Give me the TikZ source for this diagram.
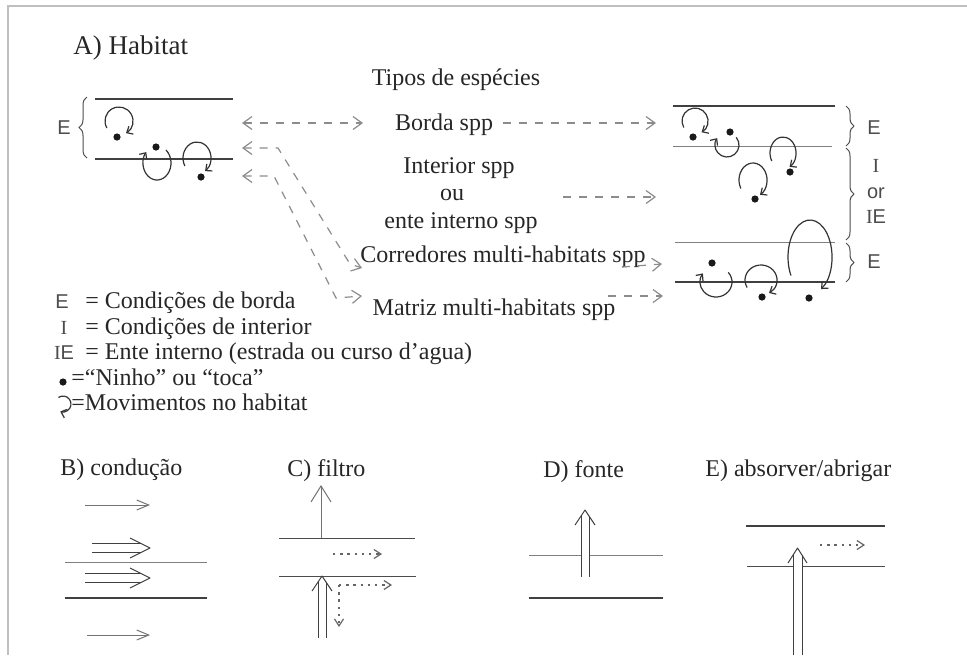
\documentclass[tikz,border=0pt]{standalone}
\usepackage{fontspec}
\setmainfont{Liberation Serif}
\newfontfamily\labelsans{Liberation Sans}
\usetikzlibrary{arrows.meta,decorations.pathreplacing}

\begin{document}
\begin{tikzpicture}[x=0.5pt, y=-0.5pt,
    >={Straight Barb[length=4.5pt,width=6.5pt]},
    txt/.style={anchor=base, inner sep=0pt, text=black!85, font=\fontsize{12}{14}\selectfont},
    paneltitle/.style={txt, anchor=base west},
    zone/.style={anchor=base, inner sep=0pt, text=black!70, font=\labelsans\fontsize{10}{12}\selectfont},
    keyzone/.style={anchor=base, inner sep=0pt, text=black!70, font=\labelsans\fontsize{10}{12}\selectfont},
    rim/.style={draw=black!75, line width=1pt},
    midline/.style={draw=black!50, line width=0.5pt},
    zonebrace/.style={draw=black!70, line width=0.5pt, decorate, decoration={brace, amplitude=4pt}},
    flow/.style={draw=black!45, line width=0.6pt, dash pattern=on 4pt off 4pt},
    roam/.style={draw=black!80, line width=0.6pt, -{Straight Barb[length=2.5pt,width=4.5pt]}},
    nest/.style={circle, fill=black!90, inner sep=0pt, minimum size=3.6pt},
    pass/.style={draw=black!55, line width=0.5pt, -{Straight Barb[length=6pt,width=5pt]}},
    trickle/.style={draw=black!60, line width=0.6pt, dash pattern=on 1.2pt off 2.4pt, -{Straight Barb[length=3.5pt,width=4.5pt]}},
    shaft/.style={draw=black!75, line width=0.5pt, double=white, double distance=3.5pt},
    chevron/.style={draw=black!75, line width=0.5pt, line join=round}]

    \useasboundingbox (0,0) rectangle (967,655);
    \draw[black!25, line width=0.6pt] (8,655) -- (8,6) -- (967,6);

    \node[txt, anchor=base west, font=\fontsize{13.5}{16}\selectfont] (habitat) at (73,54) {A) Habitat};
    \node[txt] (types) at (456,85) {Tipos de espécies};
    \node[txt] (borda) at (444,130) {Borda spp};
    \node[txt] (interior) at (459,173) {Interior spp};
    \node[txt] (ou) at (452,200) {ou};
    \node[txt] (ente) at (461,228) {ente interno spp};
    \node[txt] (corr) at (503,262) {Corredores multi-habitats spp};
    \node[txt] (matriz) at (494,315) {Matriz multi-habitats spp};

    \draw[rim] (95,99) -- (233,99);
    \draw[rim] (95,159) -- (233,159);
    \draw[zonebrace] (87,158) -- (87,97);
    \node[zone] (leftE) at (64,134) {E};

    \draw[roam] (119,121) ++(150:14) arc[start angle=150, end angle=420, radius=14];
    \node[nest] (l1) at (117,137) {};
    \draw[roam] (157,163) ++(-50:14 and 17) arc[start angle=-50, end angle=220, x radius=14, y radius=17];
    \node[nest] (l2) at (156,147) {};
    \draw[roam] (197,158) ++(150:14 and 16) arc[start angle=150, end angle=415, x radius=14, y radius=16];
    \node[nest] (l3) at (201,177) {};

    \draw[rim] (673,106) -- (835,106);
    \draw[midline] (673,146) -- (832,146);
    \draw[midline] (675,242) -- (835,242);
    \draw[rim] (675,282) -- (835,282);
    \draw[zonebrace] (846,106) -- (846,146);
    \draw[zonebrace] (846,148) -- (846,240);
    \draw[zonebrace] (846,243) -- (846,282);
    \node[zone] (rightE1) at (874,134) {E};
    \node[zone] (rightI) at (876,172) {\rmfamily I};
    \node[zone] (rightor) at (876,198) {or};
    \node[zone] (rightIE) at (876,223) {{\rmfamily I}E};
    \node[zone] (rightE2) at (874,268) {E};

    \draw[roam] (695,121) ++(150:13) arc[start angle=150, end angle=420, radius=13];
    \node[nest] (r1) at (693,137) {};
    \draw[roam] (727,145) ++(-40:12) arc[start angle=-40, end angle=215, radius=12];
    \node[nest] (r2) at (730,132) {};
    \draw[roam] (783,153) ++(150:13 and 16) arc[start angle=150, end angle=420, x radius=13, y radius=16];
    \node[nest] (r3) at (790,172) {};
    \draw[roam] (753,180) ++(150:14 and 17) arc[start angle=150, end angle=420, x radius=14, y radius=17];
    \node[nest] (r4) at (755,199) {};
    \draw[roam] (716,282) ++(-40:16 and 15) arc[start angle=-40, end angle=215, x radius=16, y radius=15];
    \node[nest] (r5) at (712,263) {};
    \draw[roam] (761,280) ++(150:16 and 15) arc[start angle=150, end angle=420, x radius=16, y radius=15];
    \node[nest] (r6) at (762,297) {};
    \draw[roam] (810,257) ++(150:22 and 37) arc[start angle=150, end angle=420, x radius=22, y radius=37];
    \node[nest] (r7) at (809,298) {};

    \coordinate (rimL1) at (242,123);
    \coordinate (rimL2) at (242,148);
    \coordinate (rimL3) at (242,176);
    \coordinate (bordaW) at (363,123);
    \coordinate (corrW) at (362,268);
    \coordinate (matrizW) at (362,296);
    \coordinate (bordaE) at (503,123);
    \coordinate (enteE) at (563,197);
    \coordinate (corrE) at (622,267);
    \coordinate (matrizE) at (608,296);
    \coordinate (rimR1) at (656,123);
    \coordinate (rimR2) at (656,197);
    \coordinate (rimR3) at (662,264);
    \coordinate (rimR4) at (663,296);

    \draw[flow, <->] (rimL1) -- (bordaW);
    \draw[flow, <->] (rimL2) -- (278,148) -- (350,264) -- (corrW);
    \draw[flow, <->] (rimL3) -- (274,176) -- (336,298) -- (matrizW);
    \draw[flow, ->] (bordaE) -- (rimR1);
    \draw[flow, ->] (enteE) -- (rimR2);
    \draw[flow, ->] (corrE) -- (rimR3);
    \draw[flow, ->] (matrizE) -- (rimR4);

    \node[keyzone] (keyE) at (62,308) {E};
    \node[txt, anchor=base west] (keyEtext) at (85,308) {= Condições de borda};
    \node[keyzone] (keyI) at (64,334) {\rmfamily I};
    \node[txt, anchor=base west] (keyItext) at (85,334) {= Condições de interior};
    \node[keyzone] (keyIE) at (64,359) {{\rmfamily I}E};
    \node[txt, anchor=base west] (keyIEtext) at (85,359) {= Ente interno (estrada ou curso d’agua)};
    \node[nest] (keynest) at (63,382) {};
    \node[txt, anchor=base west] (keynesttext) at (71,385) {=“Ninho” ou “toca”};
    \draw[roam] (63,404) ++(235:8) arc[start angle=235, end angle=470, radius=8];
    \node[txt, anchor=base west] (keyroamtext) at (71,410) {=Movimentos no habitat};

    \node[paneltitle] (conduct) at (60,475) {B) condução};
    \draw[midline] (65,562) -- (207,562);
    \draw[rim] (65,598) -- (207,598);
    \draw[pass] (85,505) -- (150,505);
    \draw[shaft, double distance=4.25pt] (92,548) -- (141,548);
    \draw[chevron] (130,538) -- (150,548) -- (130,558);
    \draw[shaft, double distance=4.25pt] (85,578) -- (141,578);
    \draw[chevron] (130,568) -- (150,578) -- (130,588);
    \draw[pass] (87,635) -- (150,635);

    \node[paneltitle] (filter) at (287,476) {C) filtro};
    \draw[midline, draw=black!70] (279,538) -- (415,538);
    \draw[midline, draw=black!70] (279,576) -- (416,576);
    \draw[pass, -{Straight Barb[length=8pt,width=10pt]}] (321,538) -- (321,485);
    \draw[trickle] (333,554) -- (382,554);
    \draw[shaft] (322,638) -- (322,582);
    \draw[chevron] (312,591) -- (322,576) -- (332,591);
    \draw[trickle] (339,585) -- (392,585);
    \draw[trickle] (339,585) -- (339,627);

    \node[paneltitle] (source) at (543,477) {D) fonte};
    \draw[midline] (529,555) -- (663,555);
    \draw[rim] (529,598) -- (663,598);
    \draw[shaft] (585,577) -- (585,516);
    \draw[chevron] (575,525) -- (585,510) -- (595,525);

    \node[paneltitle] (sink) at (705,476) {E) absorver/abrigar};
    \draw[rim] (746,526) -- (885,526);
    \draw[midline, draw=black!70] (747,566) -- (885,566);
    \draw[trickle] (820,545) -- (865,545);
    \draw[shaft, double distance=4pt] (797.5,655) -- (797.5,555);
    \draw[chevron] (788,563) -- (797.5,548) -- (807,563);

\end{tikzpicture}
\end{document}
